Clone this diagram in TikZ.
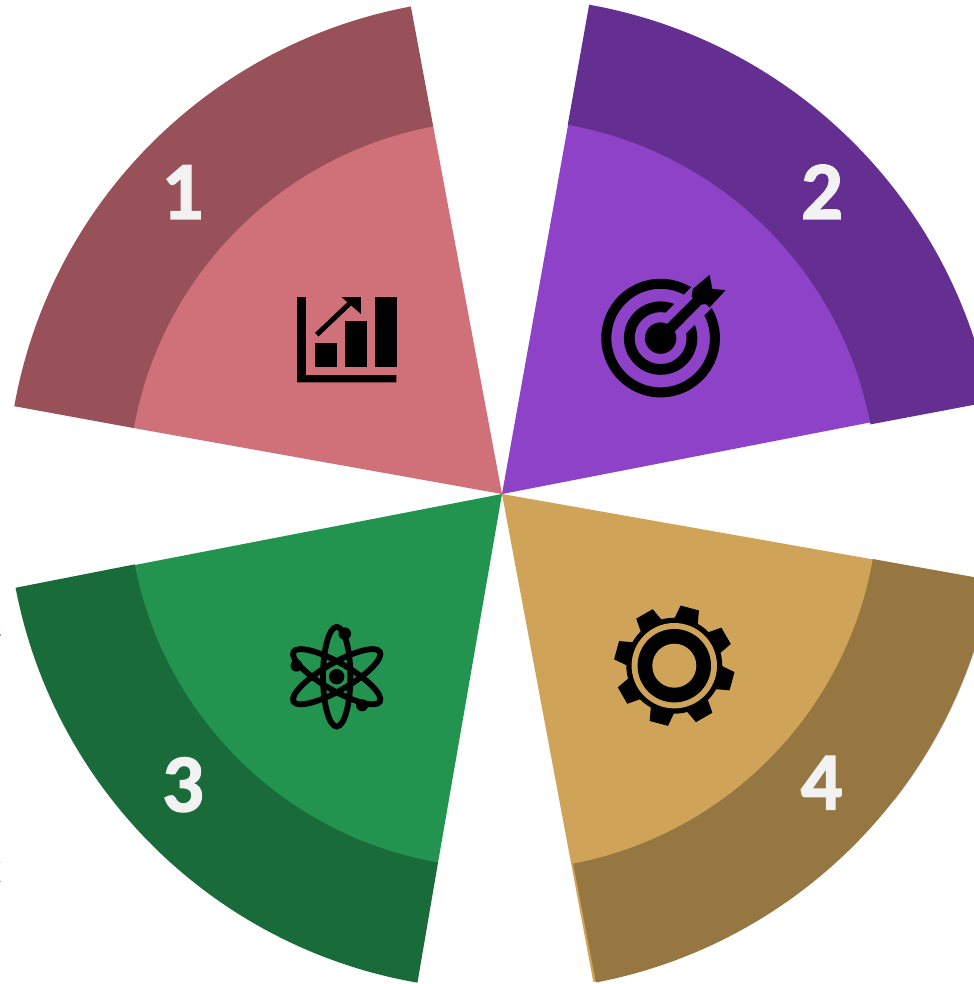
\documentclass[tikz,border=0pt]{standalone}
\usepackage{fontspec}
\setmainfont{Carlito}
\newfontfamily\numfont{Carlito}[BoldFeatures={FakeBold=1.6}]
\definecolor{roseIn}{HTML}{D0717A}
\definecolor{roseOut}{HTML}{985158}
\definecolor{violetIn}{HTML}{8D42C7}
\definecolor{violetOut}{HTML}{652F91}
\definecolor{greenIn}{HTML}{229450}
\definecolor{greenOut}{HTML}{196B3A}
\definecolor{goldIn}{HTML}{CFA358}
\definecolor{goldOut}{HTML}{967741}
\definecolor{numCol}{HTML}{F2F2F2}
\definecolor{speck}{HTML}{9A9AC8}
\tikzset{
  numlabel/.style={text=numCol,font=\fontsize{23.5}{23.5}\selectfont\numfont\bfseries,inner sep=0pt,anchor=base},
  pxscope/.style={x=0.01cm,y=-0.01cm,yshift=9.84cm}
}
% inner wedge: #1 colour, #2 start, #3 end, #4 radius
\newcommand{\wedgefill}[4]{\fill[#1] (5.02,4.90) -- +(#2:#4) arc[start angle=#2,end angle=#3,radius=#4] -- cycle;}
% outer band: #1 colour, #2 start, #3 end, #4 inner radius, #5 outer radius, #6 centre of the outer arc
\newcommand{\bandfill}[6]{\fill[#1] ($(5.02,4.90)+(#2:#4)$) -- ($(#6)+(#2:#5)$) arc[start angle=#2,end angle=#3,radius=#5] -- ($(5.02,4.90)+(#3:#4)$) arc[start angle=#3,end angle=#2,radius=#4] -- cycle;}
\usetikzlibrary{calc}
\begin{document}
\begin{tikzpicture}
\useasboundingbox (0,0) rectangle (9.74,9.84);
\clip (0,0) rectangle (9.74,9.84);
\fill[white] (0,0) rectangle (9.74,9.84);
% sector 1
\wedgefill{roseIn}{100.6}{169.85}{3.745}
\bandfill{roseOut}{100.6}{169.85}{3.74}{4.955}{5.02,4.905}
% sector 2
\wedgefill{violetIn}{11}{79.85}{3.755}
\bandfill{violetOut}{10.7}{79.9}{3.75}{4.97}{5.02,4.90}
% sector 3
\wedgefill{greenIn}{190.95}{260.15}{3.745}
\bandfill{greenOut}{190.85}{260.15}{3.74}{4.955}{5.022,4.895}
% sector 4
\fill[black!25] (5.03,4.89) -- +(322:4.965) arc[start angle=322,end angle=345,radius=4.965] -- cycle;
\wedgefill{goldIn}{280.6}{350}{4.965}
\bandfill{goldOut}{280.9}{350.05}{3.765}{4.97}{5.02,4.895}
% numbers
\begin{scope}[pxscope]
\node[numlabel] (n1) at (182.5,219) {1};
\node[numlabel] (n2) at (822.5,219) {2};
\node[numlabel] (n3) at (183,812) {3};
\node[numlabel] (n4) at (822,810) {4};
% specks at the left edge
\fill[speck] (0,634.5) rectangle (1,636);
\fill[speck!50] (0,862) rectangle (1,864);
\fill[speck] (0,881.5) rectangle (1,883);
% chart icon
\fill[black] (297.3,297.3) -- (306,297.3) -- (306,375.3) -- (396.7,375.3) -- (396.7,382.7) -- (297.3,382.7) -- cycle;
\fill[black] (315,343) rectangle (337,367.7);
\fill[black] (345,321) rectangle (367,367.7);
\fill[black] (375,297) rectangle (397,367.7);
\draw[black,line width=0.05cm] (316.9,334.9) -- (350,303.5);
\fill[black] (361,297.3) -- (341.7,297.3) -- (361,314) -- cycle;
% target icon
\fill[black,even odd rule] (661,338.3) circle[radius=0.593cm] circle[radius=0.493cm];
\fill[black,even odd rule] (661,338.3) circle[radius=0.367cm] circle[radius=0.26cm];
\draw[violetIn,line width=0.29cm] (661,338.3) -- (722,278);
\fill[black] (661,338.3) circle[radius=0.157cm];
\draw[black,line width=0.105cm] (661,338.3) -- (702,297);
\fill[black] (710,275) -- (712.7,289) -- (726,290.3) -- (710,307.7) -- (706.5,304.3) -- (698,305) -- (692,296.5) -- (693.3,289) -- cycle;
\end{scope}
% atom icon
\begin{scope}[shift={(3.367,3.073)}]
\foreach \a in {0,60,-60}
  \draw[black,line width=0.058cm,rotate=\a] (0,0) circle[x radius=0.137,y radius=0.498];
\fill[black] (0,0) circle[radius=0.077];
\end{scope}
\begin{scope}[pxscope]
\fill[black] (345,634) circle[radius=0.063cm];
\fill[black] (296.7,666) circle[radius=0.06cm];
\fill[black] (362.3,705.7) circle[radius=0.06cm];
\end{scope}
% gear icon
\begin{scope}[shift={(6.743,3.183)}]
\fill[black] (0,0) circle[radius=0.48];
\foreach \a in {75,30,-15,-60,-105,-150,165,120}
  \fill[black] (\a-15.5:0.46) -- (\a-9:0.605) -- (\a+9:0.605) -- (\a+15.5:0.46) -- cycle;
\fill[goldIn] (0,0) circle[radius=0.427];
\fill[black] (0,0) circle[radius=0.367];
\fill[goldIn] (0,0) circle[radius=0.22];
\end{scope}
\end{tikzpicture}
\end{document}
